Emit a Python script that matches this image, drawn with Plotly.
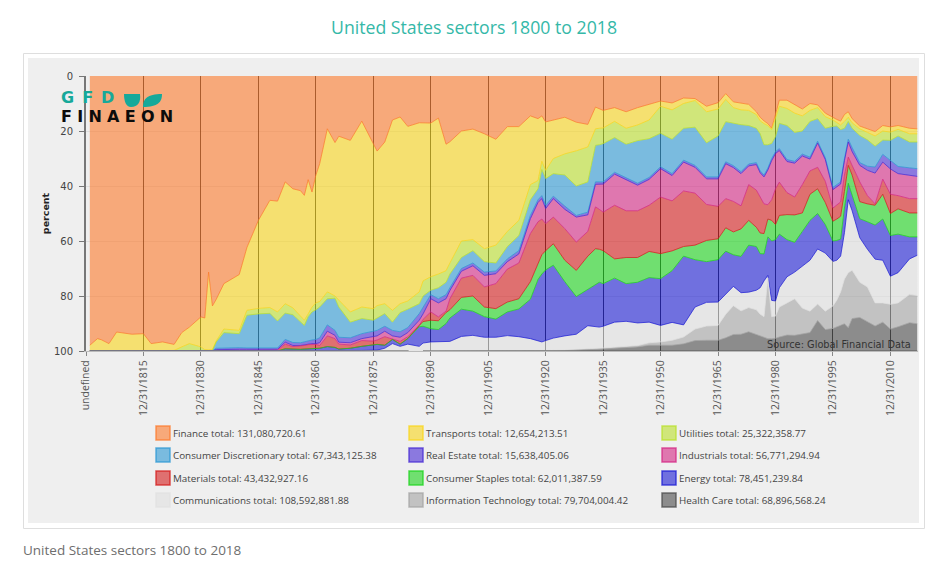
import numpy as np
import plotly.graph_objects as go

years = [1801,1803,1804,1806,1808,1812,1815,1817,1820,1823,1825,1827,1830,1831,1832,1833,1834,1836,1840,1842,1845,1848,1850,1852,1854,1856,1857,1858,1859,1860,1861,1863,1865,1866,
 1869,1872,1875,1876,1878,1880,1882,1884,1887,1888,1890,1892,1894,1895,1898,1901,1904,1907,1910,1913,1916,1918,1919,1920,1922,1925,1928,1931,1933,1934,1935,1938,1941,
 1944,1947,1950,1953,1956,1959,1962,1965,1967,1969,1971,1973,1975,1976,1977,1978,1979,1980,1981,1983,1985,1987,1989,1991,1993,1995,1996,1997,1998,1999,2000,2002,2004,2006,2008,2010,2012,2015,2017]

# Lower edge of each band
finance_edge = [97.9,95.5,95.9,97.3,93.1,93.9,93.7,97.3,96.7,97.6,93.3,91.3,87.6,88,71.3,83.6,81.2,75.5,72.2,62.4,52.5,45.2,45.5,38.5,41,41.7,43.4,37.7,42.2,36.1,31.9,19.2,24.2,21.9,
 23.4,16.4,24.6,27.3,24,16,14.9,18.3,17,17.1,17.1,15.3,24.8,23.9,20,19.3,21,23,18.4,18.4,14.5,15.5,14.5,16.7,16,15,16.8,17.6,11.3,12,12.5,11.5,13,
 11.5,10.2,9.1,9.8,8,8.2,11,9.7,6.4,9.4,9.9,10.3,13,15,16.3,17.3,19,14,8.8,8.8,10.5,12,10,10.5,13.5,15.2,15.8,16.4,14,13,15.5,18.2,19.2,20.2,18,18.5,18,19,19.2]
transports_edge = [100,100,100,100,100,100,100,100,100,99.8,98.5,97.3,98.5,99.5,99.6,99.5,96.3,92,92.5,85.2,84.5,84.2,85.8,82.8,84.3,87.5,88.8,86.5,84,82.5,82,78.5,80,81.5,
 85.8,84,84.6,83.5,82.8,85.2,82.8,81.8,78.5,74.5,73,72,70.8,68,60,59.5,62.8,61.5,56.5,52.5,39.5,38,31,34.3,30,28.3,27.2,25.8,19.2,19,18.9,16.5,19,
 17.8,16,11,12.3,10,8.9,13,12,8.5,11.5,12.3,12.5,14,16.3,17.3,18,19.5,15,11,11.8,13.5,14.5,12.5,11.5,14.8,16,16.8,17.8,16.5,15,17,19.2,20.5,21.8,20,20.4,19.4,21,21]
utilities_edge = [100,100,100,100,100,100,100,100,100,100,100,100,100,100,100,99.8,96.7,93.3,93.7,87,86.5,86.3,89.1,86.2,86.8,89.5,90.7,87.5,85.8,85,84,81,80.8,84,
 89.5,88.2,88.8,88,86.4,89.5,86,84.8,82.8,80,77.9,77,75,72,66,63.5,67.5,68,62,58,45,41,34,37.3,35.5,36,40,38.5,25.2,25,24.6,22.4,24.8,
 23.5,22.8,20.8,23,19,18.6,24.3,21.8,16.6,17.2,17.7,18,19,21,25,25,24.5,22,17.2,18,20.5,20,16.5,15.5,19,18.3,18.2,19.5,19,16.5,19,21.6,23.2,25.5,23.3,23.4,21.8,24,24]
discretionary_edge = [100,100,100,100,100,100,100,100,100,100,100,100,100,100,100,99.9,99,98.9,98.8,98.9,99,99,98.9,95.8,96.9,97,96.6,96.3,96,95.8,95.2,90.5,92.5,95,
 95.2,93.7,92.7,92.5,91,92.5,93,91.5,86.4,84,79.5,81,79.5,77,70,68,71.3,70.9,66.5,63.5,50.7,45,43.5,47,43.7,47.3,50.7,49.5,38.5,38.5,38.5,35,37,
 39,36.9,33,35.5,30.6,32.5,36.7,36.7,31.2,32.6,34.8,32,31.5,34.5,36,33.5,30,27.5,26.4,30.4,31,28.4,29.5,23.7,29.7,40.5,39.5,38.5,30,23,26,31.5,32.8,33.1,28.5,30.7,32.9,33.4,33.7]
real_estate_edge = [100,100,100,100,100,100,100,100,100,100,100,100,100,100,100,100,99.5,99.4,99.4,99.4,99.5,99.5,99.4,96.8,98,98,97.7,97.4,97.3,97.3,97,92.8,94.3,96.8,
 97,95.5,94.7,94.5,92.8,94.5,95,93.3,88.8,86.5,81,82.5,81,78,71,69,72.5,71.9,67.5,64.7,51.9,46,44.6,48.2,44.6,48.5,51.3,50.5,39.4,39.3,39.3,35.7,37.8,
 39.7,37.6,33.7,36.2,31.3,33.2,37.4,37.4,31.9,33.3,35.5,32.7,32.2,35.2,36.7,34.2,30.8,28.2,27.1,31.1,31.7,29.1,30.2,24.4,30.4,41.3,40.3,39.3,30.8,24,27.5,32.5,34.3,35.3,31.3,33.8,35.5,36.2,36.5]
industrials_edge = [100,100,100,100,100,100,100,100,100,100,100,100,100,100,100,100,99.8,99.8,99.8,99.8,99.8,99.8,99.7,97.5,98.4,98.3,98,97.7,97.6,97.6,98,94.5,95.5,97.5,
 97.8,96.2,96.4,96,94.8,95.7,96.5,94.8,90.7,88.5,85.8,87.6,85.5,81,73.5,72.5,76.7,75.5,70.2,68,57.3,53,52,53.7,51.3,55.5,60.4,56.5,47.6,48.5,49.5,47,49,
 49,47,44,45.4,41.8,42.6,46.7,47.4,44.6,45.6,47.2,39.5,41.5,44,46.5,46.8,45,41,38.6,42.4,44,39.5,34.5,33.2,38.3,48,46.8,45.8,36,29.5,32.5,38.5,43.5,46.5,37.5,43,43.5,44.6,44.6]
materials_edge = [100,100,100,100,100,100,100,100,100,100,100,100,100,100,100,100,100,100,100,100,100,100,100,99.2,99.4,99.4,99.3,99.2,99.2,99.2,99,98.4,98.7,99.3,
 99,98.3,97.6,97.6,97.9,95.8,97.5,95.5,89.5,89.3,88.8,89,86,85,80.5,80,84,84.6,82.2,81,74.8,68,65,63.5,61,67,70.7,65.5,62.8,63,63.5,66.5,66,
 66,63.8,64.6,63.6,62,61.5,59.8,59.2,55.2,56.7,55.6,52.5,55,57.1,57.3,52,52.5,54,50.7,50.4,50.5,49.8,43,41,46,52.8,52,51,42,32.5,36,45.7,46.5,47,43,50,48.3,49.8,49.8]
staples_edge = [100,100,100,100,100,100,100,100,100,100,100,100,100,100,100,100,100,100,100,100,100,100,100,99.2,99.4,99.4,99.3,99.2,99.2,99.2,99,98.4,98.7,99.3,
 99,98.3,97.6,97.6,97.9,95.8,97.5,95.5,90,91,91.9,92.2,90,88,84.8,85.5,87.5,88.4,85.8,84.7,81.2,74,72,70.5,68.8,74.8,80.2,77.5,76,75,75.5,73.5,75.5,
 75,73.3,73.7,70.8,65.5,66.8,67.5,66.8,63.7,65,65.6,61.5,62,64.6,64.7,58.5,60,59.5,57.5,59.5,60.5,56.5,52.5,50,54,60,59.8,59.3,48,39,43.5,51.9,53,54.2,52,58,57.5,58.5,58.5]
energy_edge = [100,100,100,100,100,100,100,100,100,100,100,100,100,100,100,100,100,100,100,100,100,100,100,100,100,100,100,100,100,100,100,100,100,99.9,
 99.9,99.8,99.7,99.7,99,97.3,98.3,97.5,97.1,97.1,96.7,96.7,96.7,96.5,94.7,94.3,95,95,94.4,94.8,95.5,96.3,96.7,96.2,95.3,94.5,93.9,90.8,91.2,91.3,91,89.5,89.2,
 89.8,89.5,90.7,89.6,90.5,84,82.3,82.2,79.4,76.5,78.8,78.6,77.9,77,74.5,72.5,81.6,81.8,77,73,71.3,69,67,62.9,64.4,67.4,67,65.5,57,45,49,58.8,63,66.6,67,72.8,71.5,66.5,65.2]
communications_edge = [100,100,100,100,100,100,100,100,100,100,100,100,100,100,100,100,100,100,100,100,100,100,100,100,100,100,100,100,100,100,100,100,100,100,
 100,100,100,100,100,100,100,100,100,100,100,100,100,100,100,100,100,100,100,100,100,100,100,100,99.8,99.6,99.3,99.2,99.1,99,99,98.7,98.5,
 98,97,96.7,96.1,94.9,92,90.9,90.7,86.6,83.5,85.4,84.2,85,86.6,87.5,73.5,87.5,87.3,84,82.5,81,84.4,85.5,82.9,85.5,83.6,81.5,78.5,73.8,71.5,70.6,75,76.7,82.5,82.5,83,82.5,79.4,79.8]
technology_edge = [100,100,100,100,100,100,100,100,100,100,100,100,100,100,100,100,100,100,100,100,100,100,100,100,100,100,100,100,100,100,100,100,100,100,
 100,100,100,100,100,100,100,100,100,100,100,100,100,100,100,100,100,100,100,100,100,100,100,100,100,99.9,99.7,99.6,99.5,99.4,99.3,99,98.8,
 98.5,97.9,97.9,97.9,97.4,96.2,96.1,96.1,95.2,94,93.9,93,94,94.5,95,95.5,95.5,95.4,94.9,94.2,94.3,93.8,93.3,88.9,92.2,91.8,91.2,90.8,90.1,91.5,88.2,87.8,89.4,90.9,89.5,92,91.2,89.7,90.1]
axis_floor = [100] * len(years)

sector_names = ["Finance","Transports","Utilities","Consumer Discretionary","Real Estate","Industrials","Materials",
                "Consumer Staples","Energy","Communications","Information Technology","Health Care"]
sector_totals = ["131,080,720.61","12,654,213.51","25,322,358.77","67,343,125.38","15,638,405.06","56,771,294.94",
                 "43,432,927.16","62,011,387.59","78,451,239.84","108,592,881.88","79,704,004.42","68,896,568.24"]
sector_rgb = ["252,122,44","249,214,26","186,224,44","44,152,211","71,41,211","212,39,132",
              "211,27,27","27,211,27","27,27,211","224,224,224","164,164,164","74,74,74"]
tick_years = [1800,1815,1830,1845,1860,1875,1890,1905,1920,1935,1950,1965,1980,1995,2010]
tick_labels = ["undefined"] + [f"12/31/{y}" for y in tick_years[1:]]

edges = np.array([[0]*len(years), finance_edge, transports_edge, utilities_edge, discretionary_edge, real_estate_edge,
                  industrials_edge, materials_edge, staples_edge, energy_edge, communications_edge, technology_edge, axis_floor], float)
shares = np.clip(np.diff(edges, axis=0), 0, None)

fig = go.Figure()
for name, rgb, vals in zip(sector_names, sector_rgb, shares):
    fig.add_trace(go.Scatter(x=years, y=vals.round(2), name=name, mode="lines", stackgroup="s",
                             line=dict(color=f"rgba({rgb},0.75)", width=1, shape="linear"),
                             fillcolor=f"rgba({rgb},0.6)", showlegend=False))

L, T, PW, PH = 86, 76, 832, 275
X = lambda p: (p - L) / PW
Y = lambda p: 1 - (p - T) / PH
shapes, notes = [], []
def box(x0, y0, x1, y1, fill, line="rgba(0,0,0,0)", w=1, layer="below"):
    shapes.append(dict(type="rect", xref="paper", yref="paper", x0=X(x0), x1=X(x1), y0=Y(y0), y1=Y(y1),
                       fillcolor=fill, line=dict(color=line, width=w), layer=layer))
def text(s, x, y, size, color, family="Open Sans", anchor="left", align="left"):
    notes.append(dict(text=s, xref="paper", yref="paper", x=X(x), y=Y(y), xanchor=anchor, yanchor="middle", align=align,
                      showarrow=False, font=dict(size=size, color=color, family=family)))

box(23.5, 53.5, 924.5, 528.5, "white", "#dedede")
box(28, 58, 919, 523, "#efefef")

text("United States sectors 1800 to 2018", 474, 26.5, 17.7, "#35b8a8", anchor="center")
text("United States sectors 1800 to 2018", 21, 550, 13.5, "#6e6e6e")
text("Source: Global Financial Data", 913, 344, 9.8, "#333333", "DejaVu Sans", "right")

# Logo: one text block with two lines
text('<span style="font-size:16px;color:#16a99a"><b>G\u2002F\u2002D</b></span><br>'
     '<span style="font-size:16px;color:#0c0c0c"><b>F\u2004I\u2004N\u2004A\u2004E\u2004O\u2004N</b></span>',
     59, 107, 14.3, "#0c0c0c", "DejaVu Sans")
for path in ["M124,94 L140,94 C141,102 138,107 131,107 C126,107 124,101 124,94 Z",
             "M143,107 C143,99 147,94 162,94 C162,102 158,107 143,107 Z"]:
    pts = path.split()
    out = []
    for tok in pts:
        if "," in tok:
            cmd = tok[0] if tok[0].isalpha() else ""
            a, b = tok.lstrip("MLC").split(",")
            out.append(f"{cmd}{X(float(a)):.5f},{Y(float(b)):.5f}")
        else:
            out.append(tok)
    shapes.append(dict(type="path", xref="paper", yref="paper", path=" ".join(out),
                       fillcolor="#16a99a", line=dict(width=0), layer="above"))

# Legend, three columns by four rows
col_x = [156, 409, 662]
row_y = [433, 455, 478, 500]
for i, (name, total, rgb) in enumerate(zip(sector_names, sector_totals, sector_rgb)):
    cx, ry = col_x[i % 3], row_y[i // 3]
    box(cx, ry - 7, cx + 14, ry + 7, f"rgba({rgb},0.6)", f"rgba({rgb},0.75)", 1.5)
    text(f"{name} total: {total}", cx + 15, ry, 9.85, "#444444")

fig.update_layout(
    width=940, height=562, autosize=False, showlegend=False,
    margin=dict(l=L, r=940 - L - PW, t=T, b=562 - T - PH, pad=0),
    paper_bgcolor="white", plot_bgcolor="#efefef",
    shapes=shapes, annotations=notes, hovermode=False,
    font=dict(family="DejaVu Sans", color="#555555"),
    xaxis=dict(range=[1800, 2017.2], tickmode="array", tickvals=tick_years, ticktext=tick_labels, tickangle=-90,
               tickfont=dict(size=10.5, color="#555555", family="Open Sans"), ticks="outside", ticklen=4, tickcolor="#888888",
               showgrid=True, gridcolor="rgba(0,0,0,0.8)", gridwidth=1, zeroline=False,
               showline=True, linecolor="#bbbbbb", linewidth=1),
    yaxis=dict(range=[100, 0], tickvals=[0, 20, 40, 60, 80, 100], tickfont=dict(size=10, color="#444444"),
               ticks="outside", ticklen=5, tickcolor="#777777", ticklabelstandoff=4,
               showgrid=True, gridcolor="rgba(0,0,0,0.07)", zeroline=False,
               showline=True, linecolor="#777777", linewidth=2,
               title=dict(text="<b>percent</b>", font=dict(size=9.5, color="#222222"), standoff=3)),
)
fig.write_html("out.html", config=dict(displayModeBar=False),
               post_script="document.body.style.margin='0';document.documentElement.style.overflow='hidden';")
